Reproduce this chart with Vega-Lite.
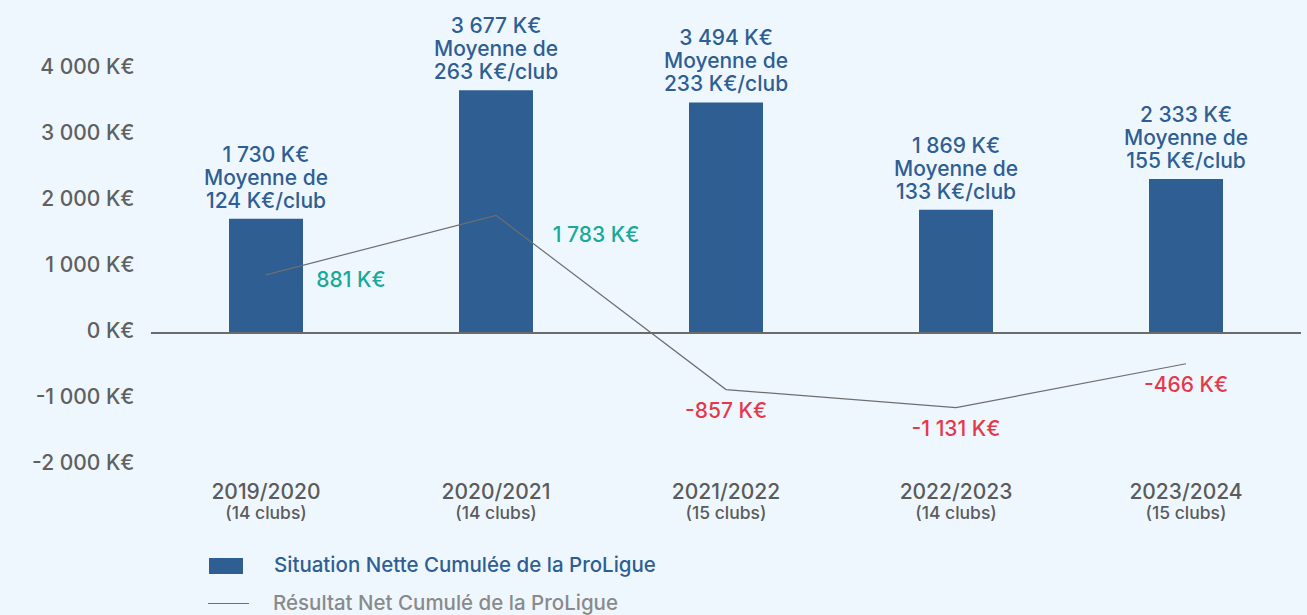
{
  "$schema": "https://vega.github.io/schema/vega-lite/v6.json",
  "autosize": "none",
  "width": 1150,
  "height": 429,
  "padding": {"left": 151, "top": 36, "right": 6, "bottom": 150},
  "background": "#EFF7FE",
  "config": {"font": "Inter", "view": {"stroke": null}},
  "data": {"values": [
    {"season": "2019/2020", "clubs": "(14 clubs)", "situation": 1730, "resultat": 881, "situationLabel": "1 730 K€\nMoyenne de\n124 K€/club", "resultatLabel": "881 K€"},
    {"season": "2020/2021", "clubs": "(14 clubs)", "situation": 3677, "resultat": 1783, "situationLabel": "3 677 K€\nMoyenne de\n263 K€/club", "resultatLabel": "1 783 K€"},
    {"season": "2021/2022", "clubs": "(15 clubs)", "situation": 3494, "resultat": -857, "situationLabel": "3 494 K€\nMoyenne de\n233 K€/club", "resultatLabel": "-857 K€"},
    {"season": "2022/2023", "clubs": "(14 clubs)", "situation": 1869, "resultat": -1131, "situationLabel": "1 869 K€\nMoyenne de\n133 K€/club", "resultatLabel": "-1 131 K€"},
    {"season": "2023/2024", "clubs": "(15 clubs)", "situation": 2333, "resultat": -466, "situationLabel": "2 333 K€\nMoyenne de\n155 K€/club", "resultatLabel": "-466 K€"}
  ]},
  "encoding": {
    "x": {
      "field": "season", "type": "nominal", "sort": null,
      "scale": {"paddingInner": 0, "paddingOuter": 0},
      "axis": {"title": null, "domain": false, "ticks": false, "labelAngle": 0, "labelFontSize": 21, "labelColor": "#5b5b5b", "labelPadding": 16, "labelFontWeight": 500}
    }
  },
  "layer": [
    {
      "mark": {"type": "bar", "width": 74},
      "encoding": {
        "y": {
          "field": "situation", "type": "quantitative",
          "scale": {"domain": [-2000, 4500], "nice": false, "zero": false},
          "axis": {"title": null, "domain": false, "ticks": false, "grid": false, "values": [-2000, -1000, 0, 1000, 2000, 3000, 4000], "labelPadding": 17, "labelFontSize": 21, "labelColor": "#606060", "labelFontWeight": 500, "labelOffset": -2,
            "labelExpr": "datum.value == 0 ? '0 K€' : (datum.value < 0 ? '-' : '') + abs(datum.value) / 1000 + ' 000 K€'"}
        },
        "color": {
          "datum": "Situation Nette Cumulée de la ProLigue",
          "scale": {"range": ["#2F5E93"]},
          "legend": {"orient": "none", "legendX": 58, "legendY": 513, "title": null, "padding": 0,
            "symbolType": "M-1,-0.47H1V0.47H-1Z", "symbolSize": 1156, "symbolStrokeWidth": 0, "symbolOpacity": 1,
            "labelFontSize": 20.5, "labelColor": "#2F5E93", "labelOffset": 31, "labelFontWeight": 500, "labelLimit": 600}
        }
      }
    },
    {
      "mark": {"type": "rule", "color": "#6b6b6b", "strokeWidth": 1.5},
      "encoding": {"y": {"datum": 0}, "x": null}
    },
    {
      "mark": {"type": "line", "strokeWidth": 1.2},
      "encoding": {
        "y": {"field": "resultat", "type": "quantitative"},
        "stroke": {
          "datum": "Résultat Net Cumulé de la ProLigue",
          "scale": {"range": ["#6e6e6e"]},
          "legend": {"orient": "none", "legendX": 56, "legendY": 546, "title": null, "padding": 0,
            "symbolType": "stroke", "symbolSize": 1681, "symbolStrokeWidth": 1.2,
            "labelFontSize": 20.5, "labelColor": "#8a8a8a", "labelOffset": 23, "labelFontWeight": 500, "labelLimit": 600}
        }
      }
    },
    {
      "mark": {"type": "text", "baseline": "bottom", "align": "center", "dy": -53, "fontSize": 21, "lineHeight": 23, "lineBreak": "\n", "color": "#2F5E93", "fontWeight": 500},
      "encoding": {
        "y": {"field": "situation", "type": "quantitative"},
        "text": {"field": "situationLabel"}
      }
    },
    {
      "transform": [{"filter": "datum.season == '2019/2020'"}],
      "mark": {"type": "text", "baseline": "middle", "align": "center", "dx": 85, "dy": 6, "fontSize": 21, "color": "#17A99A", "fontWeight": 500},
      "encoding": {"y": {"field": "resultat", "type": "quantitative"}, "text": {"field": "resultatLabel"}}
    },
    {
      "transform": [{"filter": "datum.season == '2020/2021'"}],
      "mark": {"type": "text", "baseline": "middle", "align": "center", "dx": 100, "dy": 21, "fontSize": 21, "color": "#17A99A", "fontWeight": 500},
      "encoding": {"y": {"field": "resultat", "type": "quantitative"}, "text": {"field": "resultatLabel"}}
    },
    {
      "transform": [{"filter": "datum.resultat < 0"}],
      "mark": {"type": "text", "baseline": "middle", "align": "center", "dy": 22, "fontSize": 21, "color": "#E5394B", "fontWeight": 500},
      "encoding": {"y": {"field": "resultat", "type": "quantitative"}, "text": {"field": "resultatLabel"}}
    },
    {
      "mark": {"type": "text", "baseline": "middle", "align": "center", "fontSize": 17.5, "color": "#5b5b5b", "fontWeight": 500},
      "encoding": {"y": {"datum": -2742}, "text": {"field": "clubs"}}
    }
  ]
}
